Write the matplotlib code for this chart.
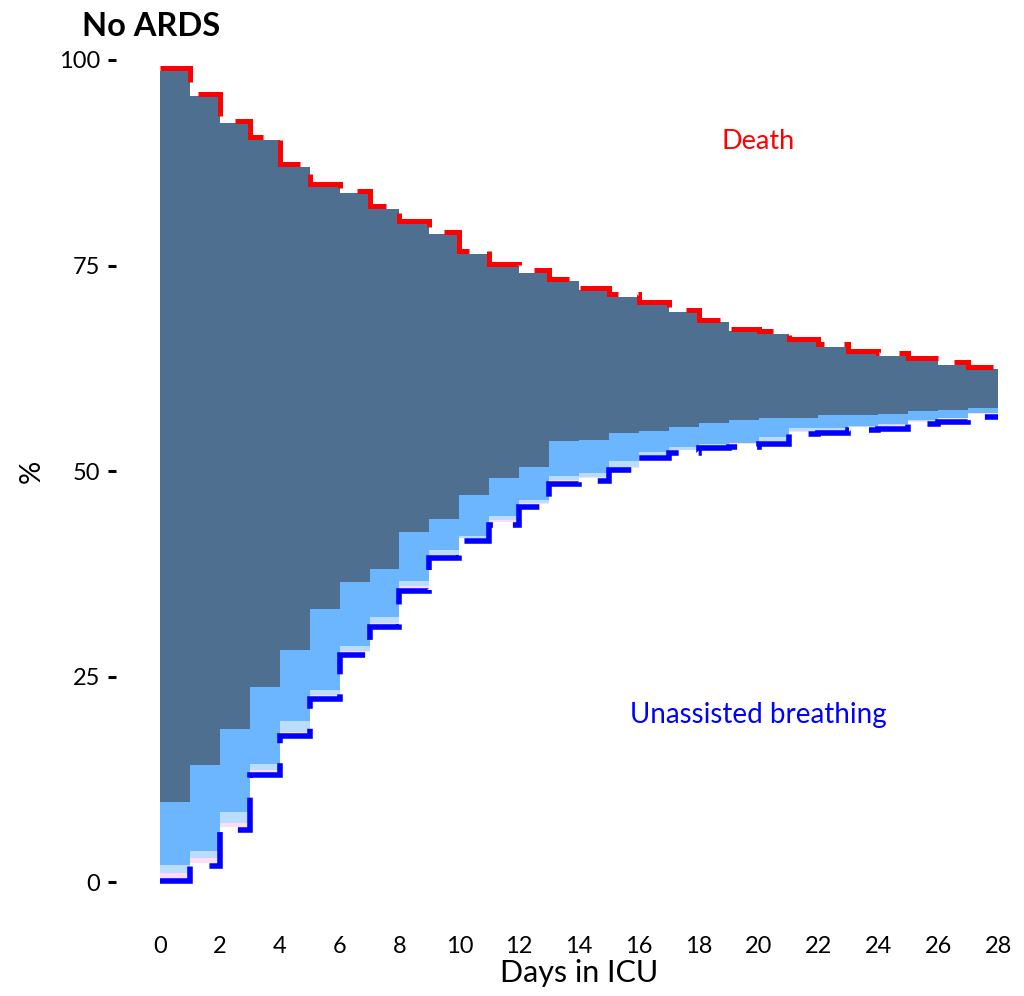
import numpy as np
import matplotlib.pyplot as plt
from matplotlib import transforms

plt.rcParams['font.family'] = ['Lato', 'DejaVu Sans']

# dias en UCI (cada escalon dura un dia)
days = list(range(0, 28))

# limites acumulados de cada estado (%)
unassisted = [0.4, 2.3, 6.7, 13.4, 18.1, 22.6, 28.0, 31.3, 35.8, 39.7,
              41.8, 43.8, 46.0, 48.8, 49.1, 50.4, 51.9, 52.5, 53.1, 53.3,
              53.6, 54.8, 54.9, 55.3, 55.5, 56.0, 56.3, 56.9]
cum_pink = [1.1, 2.9, 7.2, 13.6, 18.3, 22.7, 28.1, 31.5, 36.0, 39.8,
            41.9, 44.0, 46.1, 48.9, 49.3, 50.5, 52.0, 52.6, 53.2, 53.35,
            53.7, 54.9, 55.0, 55.4, 55.6, 56.1, 56.4, 57.0]
cum_pale = [2.1, 3.8, 8.5, 14.35, 19.6, 23.4, 28.7, 32.2, 36.6, 40.4,
            42.1, 44.5, 46.5, 49.4, 49.7, 51.2, 52.3, 52.9, 53.3, 53.4,
            54.1, 55.2, 55.2, 55.5, 55.7, 56.2, 56.5, 57.1]
cum_light = [9.7, 14.2, 18.6, 23.7, 28.2, 33.2, 36.5, 38.1, 42.6, 44.2,
             47.1, 49.2, 50.5, 53.6, 53.8, 54.6, 54.9, 55.3, 55.9, 56.2,
             56.4, 56.5, 56.8, 56.8, 56.9, 57.3, 57.4, 57.7]
cum_dark = [98.7, 95.6, 92.3, 90.3, 87.0, 84.6, 83.8, 81.9, 80.1, 78.8,
            76.4, 74.9, 74.1, 73.1, 72.0, 71.2, 70.2, 69.3, 68.1, 67.0,
            66.7, 65.8, 65.1, 64.3, 64.0, 63.5, 62.9, 62.4]

xticks = list(range(0, 29, 2))
yticks = [0, 25, 50, 75, 100]

x = np.append(days, days[-1] + 1)


def ext(v):
    return np.append(v, v[-1])


fig = plt.figure(figsize=(10.24, 9.96), dpi=100)
ax = fig.add_axes([160 / 1024, 1 - 882 / 996, 838 / 1024, 822 / 996])

# bandas apiladas
ax.fill_between(x, ext(unassisted), ext(cum_pink), step='post', color='#FFDDF8', lw=0)
ax.fill_between(x, ext(cum_pink), ext(cum_pale), step='post', color='#BADCFF', lw=0)
ax.fill_between(x, ext(cum_pale), ext(cum_light), step='post', color='#6CB6FF', lw=0)
ax.fill_between(x, ext(cum_light), ext(cum_dark), step='post', color='#4F6F91', lw=0)

# lineas discontinuas (desplazadas medio grosor hacia afuera)
up = transforms.offset_copy(ax.transData, fig=fig, y=1.8, units='points')
down = transforms.offset_copy(ax.transData, fig=fig, y=-2.0, units='points')
ax.step(x, ext(cum_dark), where='post', color='red', lw=3.6, dashes=(8.8, 4),
        dash_capstyle='butt', dash_joinstyle='miter', transform=up, clip_on=False)
ax.step(x, ext(unassisted), where='post', color='blue', lw=4.0, dashes=(8.0, 3.6),
        dash_capstyle='butt', dash_joinstyle='miter', transform=down, clip_on=False)

ax.text(20, 90.1, 'Death', color='red', fontsize=19.5, ha='center', va='center')
ax.text(20, 20.3, 'Unassisted breathing', color='blue', fontsize=20, ha='center', va='center')

ax.set_xlim(0, 28)
ax.set_ylim(0, 100)
ax.set_xticks(xticks)
ax.set_yticks(yticks)
ax.tick_params(axis='x', length=0, pad=39, labelsize=17)
ax.tick_params(axis='y', length=5.8, width=2.2, pad=5.5, labelsize=17)
for s in ['top', 'right', 'bottom']:
    ax.spines[s].set_visible(False)
ax.spines['left'].set_position(('outward', 31.7))
ax.spines['left'].set_visible(False)

ax.set_xlabel('Days in ICU', fontsize=22, labelpad=1)
ax.set_ylabel('%', fontsize=21, labelpad=10)

fig.text(82 / 1024, 1 - 36 / 996, 'No ARDS', fontsize=23.5, fontweight='bold', va='baseline')

fig.savefig('out.png', dpi=100)
